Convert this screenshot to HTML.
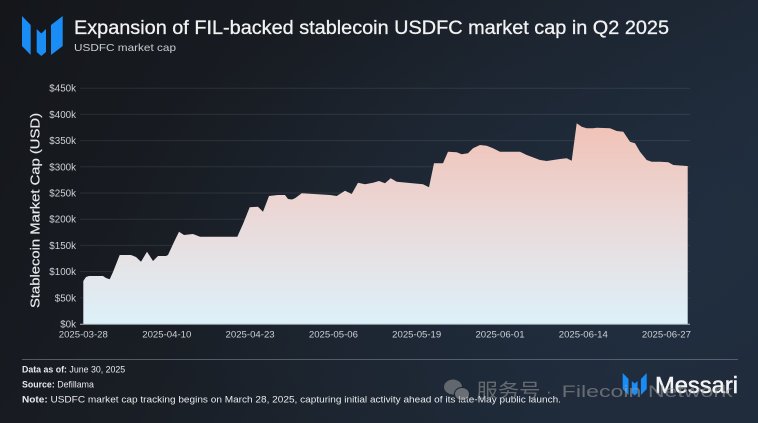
<!DOCTYPE html>
<html><head><meta charset="utf-8"><style>
html,body{margin:0;padding:0;width:758px;height:423px;overflow:hidden;background:#181c22}
svg{display:block}
</style></head><body>
<svg width="758" height="423" viewBox="0 0 758 423" xmlns="http://www.w3.org/2000/svg" font-family="Liberation Sans, Arial, sans-serif">
<defs>
<linearGradient id="bg" x1="0" y1="0" x2="1" y2="0.35">
<stop offset="0" stop-color="#14161a"/>
<stop offset="0.45" stop-color="#191e25"/>
<stop offset="1" stop-color="#1f2b3a"/>
</linearGradient>
<radialGradient id="glow" cx="0.75" cy="0.55" r="0.6">
<stop offset="0" stop-color="#24344a" stop-opacity="0.45"/>
<stop offset="1" stop-color="#24344a" stop-opacity="0"/>
</radialGradient>
<linearGradient id="fill" gradientUnits="userSpaceOnUse" x1="0" y1="120" x2="0" y2="324">
<stop offset="0" stop-color="#f1c1b5"/>
<stop offset="0.5" stop-color="#eadada"/>
<stop offset="1" stop-color="#ddf1f9"/>
</linearGradient>
</defs>
<rect width="758" height="423" fill="url(#bg)"/>
<rect width="758" height="423" fill="url(#glow)"/>

<!-- top-left logo -->
<g fill="#1a8cf5">
<polygon points="22,16 30.7,25 30.7,55 22,46"/>
<polygon points="36.7,29 41.3,33.5 46,29 46,52 41.3,56 36.7,52"/>
<polygon points="51,25 62.7,16 62.7,46 51,55"/>
</g>

<text x="74" y="34" font-size="19" fill="#f2f2f2" stroke="#f2f2f2" stroke-width="0.3" textLength="595" lengthAdjust="spacingAndGlyphs">Expansion of FIL-backed stablecoin USDFC market cap in Q2 2025</text>
<text x="74" y="51" font-size="10.5" fill="#c9ccd1" textLength="102" lengthAdjust="spacingAndGlyphs">USDFC market cap</text>

<!-- gridlines -->
<g stroke="#ffffff" stroke-opacity="0.09" stroke-width="1">
<line x1="80" x2="690" y1="88.2" y2="88.2"/>
<line x1="80" x2="690" y1="114.4" y2="114.4"/>
<line x1="80" x2="690" y1="140.6" y2="140.6"/>
<line x1="80" x2="690" y1="166.8" y2="166.8"/>
<line x1="80" x2="690" y1="193" y2="193"/>
<line x1="80" x2="690" y1="219.2" y2="219.2"/>
<line x1="80" x2="690" y1="245.4" y2="245.4"/>
<line x1="80" x2="690" y1="271.6" y2="271.6"/>
<line x1="80" x2="690" y1="297.8" y2="297.8"/>
</g>

<!-- area -->
<path fill="url(#fill)" d="M83.3,324 L83.3,281 L86,277 L89,276 L103,276 L106,278 L109.7,279.3 L113,272 L119.7,255 L131,255 L136,257 L141,261.7 L147,251.7 L153,261 L158,256 L166,256 L168,255 L174,242 L179,231.7 L184,235 L193,234 L200,236.7 L237.3,236.7 L243,224 L249.7,207.3 L258,206.7 L263,211.7 L269,196 L278,195 L285,195 L288,199 L292,199.5 L295,198.3 L301.7,193.3 L330,195 L336.7,196 L345,190.7 L351.7,194 L358,182.7 L365,184.3 L373,182.7 L379,181 L385,183.3 L390.7,178.3 L396.7,181.7 L423,184.3 L429,187.3 L434,163.3 L443,163.3 L448,151.7 L456.7,152.3 L461.7,154.3 L468,153.3 L473,148.3 L480,145 L486.7,145.7 L493,148.3 L500,151.7 L520,151.7 L526.7,155 L540,160 L546.7,161 L560,159 L566.7,158.3 L571.7,160.7 L576.7,123.3 L581.7,126.7 L586.7,128.3 L593.3,128.3 L596.7,127.7 L610,128.3 L616.7,131 L623.3,131.7 L630,141.7 L635,143.3 L640,151.7 L646.7,160 L651.7,161.7 L660,161.7 L668.3,162.3 L673.3,165 L686.7,166 L687.7,166 L687.7,324 Z"/>
<line x1="80" x2="690" y1="324.2" y2="324.2" stroke="#aeb4bc" stroke-width="1"/>

<!-- y tick labels -->
<g font-size="9.8" fill="#cdd0d5" text-anchor="end">
<text x="76" y="327.5">$0k</text>
<text x="76" y="301.3">$50k</text>
<text x="76" y="275.1">$100k</text>
<text x="76" y="248.9">$150k</text>
<text x="76" y="222.7">$200k</text>
<text x="76" y="196.5">$250k</text>
<text x="76" y="170.3">$300k</text>
<text x="76" y="144.1">$350k</text>
<text x="76" y="117.9">$400k</text>
<text x="76" y="91.7">$450k</text>
</g>

<!-- x tick labels -->
<g font-size="9.6" fill="#cdd0d5" text-anchor="middle">
<text x="83.3" y="337.5">2025-03-28</text>
<text x="166.8" y="337.5">2025-04-10</text>
<text x="250.1" y="337.5">2025-04-23</text>
<text x="333.4" y="337.5">2025-05-06</text>
<text x="416.7" y="337.5">2025-05-19</text>
<text x="500" y="337.5">2025-06-01</text>
<text x="583.3" y="337.5">2025-06-14</text>
<text x="666.4" y="337.5">2025-06-27</text>
</g>

<text transform="translate(39.5,210.5) rotate(-90)" font-size="13" fill="#e6e8eb" stroke="#e6e8eb" stroke-width="0.2" text-anchor="middle" textLength="195" lengthAdjust="spacingAndGlyphs">Stablecoin Market Cap (USD)</text>

<!-- footer -->
<line x1="22" x2="738" y1="359.5" y2="359.5" stroke="#6a717c" stroke-width="0.8"/>
<g font-size="8.8" fill="#e8eaed">
<text x="22" y="372.5"><tspan font-weight="bold">Data as of:</tspan> June 30, 2025</text>
<text x="22" y="387.5"><tspan font-weight="bold">Source:</tspan> Defillama</text>
<text x="22" y="402.5" textLength="539" lengthAdjust="spacingAndGlyphs"><tspan font-weight="bold">Note:</tspan> USDFC market cap tracking begins on March 28, 2025, capturing initial activity ahead of its late-May public launch.</text>
</g>

<!-- Messari logo bottom right -->
<g fill="#1a8cf5">
<polygon points="622.7,373 628.5,379 628.5,395 622.7,389"/>
<polygon points="631.8,381 634.7,383.5 637.6,381 637.6,393 634.7,395.5 631.8,393"/>
<polygon points="640.9,379 646.7,373 646.7,389 640.9,395"/>
</g>
<text x="655" y="393" font-size="23" fill="#f4f4f4" stroke="#f4f4f4" stroke-width="0.5" textLength="83" lengthAdjust="spacingAndGlyphs">Messari</text>

<!-- watermark -->
<g opacity="0.55">
<ellipse cx="453" cy="387" rx="9" ry="7.5" fill="#9a9a9a"/>
<ellipse cx="462" cy="394" rx="7.5" ry="6.5" fill="#a8a8a8" stroke="#1b2029" stroke-width="1"/>
<text x="476.5" y="397" font-size="19" fill="#a0a0a0" font-family="Liberation Sans, Noto Sans CJK SC, sans-serif" textLength="64" lengthAdjust="spacingAndGlyphs">服务号</text>
<text x="546" y="397" font-size="17" fill="#a0a0a0">·</text>
<text x="561.7" y="397" font-size="17" fill="#a0a0a0" textLength="171" lengthAdjust="spacingAndGlyphs">Filecoin Network</text>
</g>
</svg>
</body></html>
